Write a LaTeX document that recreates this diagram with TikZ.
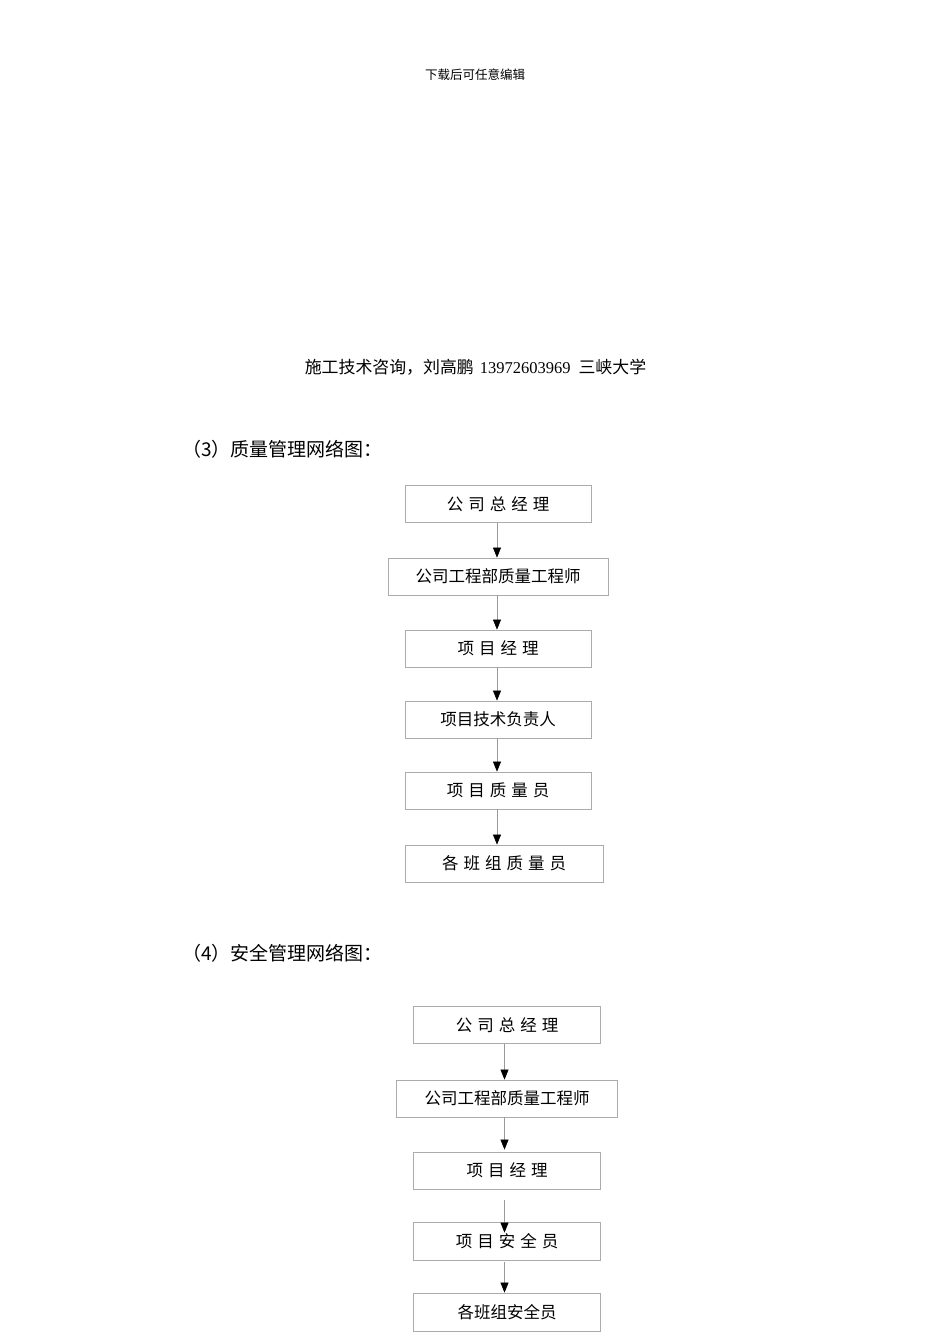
\documentclass[tikz,border=0pt]{standalone}
\usepackage{fontspec}
\setmainfont{Liberation Serif}
\newfontfamily\cjk{Noto Sans CJK SC}
\usetikzlibrary{arrows.meta}
\newcommand{\kgap}{\hspace{5pt}}
\begin{document}
\begin{tikzpicture}[x=1pt,y=-1pt,
  box/.style={draw=black!33,line width=0.8pt,inner sep=0pt,minimum width=186pt,minimum height=37pt,font=\cjk\fontsize{16.5pt}{18pt}\selectfont},
  conn/.style={draw=black!40,line width=0.6pt,-{Triangle[length=10pt,width=8pt,color=black]}},
  heading/.style={anchor=west,inner sep=0pt,font=\cjk\fontsize{19pt}{21pt}\selectfont}]
\useasboundingbox (0,0) rectangle (950,1344);
\node (top) at (475,75) {\cjk\fontsize{12.5pt}{14pt}\selectfont 下载后可任意编辑};
\node (hdr) at (475.5,367) {\fontsize{16.5pt}{18pt}\selectfont{\cjk\fontsize{16.9pt}{18pt}\selectfont 施工技术咨询，刘高鹏}\hspace{6pt}13972603969\hspace{8pt}{\cjk\fontsize{16.9pt}{18pt}\selectfont 三峡大学}};
\node[heading] (t3) at (182,449) {（3）质量管理网络图：};
\node[heading] (t4) at (182,953) {（4）安全管理网络图：};
% diagram 1
\node[box] (q1) at (498,504) {公\kgap 司\kgap 总\kgap 经\kgap 理};
\node[box,minimum width=220pt] (q2) at (498,576.5) {公司工程部质量工程师};
\node[box] (q3) at (498,648.5) {项\kgap 目\kgap 经\kgap 理};
\node[box] (q4) at (498,719.5) {项目技术负责人};
\node[box] (q5) at (498,790.5) {项\kgap 目\kgap 质\kgap 量\kgap 员};
\node[box,minimum width=198pt] (q6) at (504,863.5) {各\kgap 班\kgap 组\kgap 质\kgap 量\kgap 员};
\draw[conn] ([xshift=-1pt]q1.south) -- ([xshift=-1pt]q1.south |- q2.north);
\draw[conn] ([xshift=-1pt]q2.south) -- ([xshift=-1pt]q2.south |- q3.north);
\draw[conn] ([xshift=-1pt]q3.south) -- ([xshift=-1pt]q3.south |- q4.north);
\draw[conn] ([xshift=-1pt]q4.south) -- ([xshift=-1pt]q4.south |- q5.north);
\draw[conn] ([xshift=-1pt]q5.south) -- ([xshift=-1pt]q5.south |- q6.north);
% diagram 2
\node[box,minimum width=187pt] (s1) at (507,1025) {公\kgap 司\kgap 总\kgap 经\kgap 理};
\node[box,minimum width=221pt] (s2) at (507,1098.5) {公司工程部质量工程师};
\node[box,minimum width=187pt] (s3) at (507,1170.5) {项\kgap 目\kgap 经\kgap 理};
\node[box,minimum width=187pt,minimum height=38pt] (s4) at (507,1241) {项\kgap 目\kgap 安\kgap 全\kgap 员};
\node[box,minimum width=187pt,minimum height=38pt] (s5) at (507,1312) {各班组安全员};
\draw[conn] ([xshift=-2.5pt]s1.south) -- ([xshift=-2.5pt]s1.south |- s2.north);
\draw[conn] ([xshift=-2.5pt]s2.south) -- ([xshift=-2.5pt,yshift=2pt]s2.south |- s3.north);
\draw[conn,shorten <=11pt,shorten >=-11pt] ([xshift=-2.5pt]s3.south) -- ([xshift=-2.5pt]s3.south |- s4.north);
\draw[conn,shorten <=2pt] ([xshift=-2.5pt]s4.south) -- ([xshift=-2.5pt]s4.south |- s5.north);
\end{tikzpicture}
\end{document}
